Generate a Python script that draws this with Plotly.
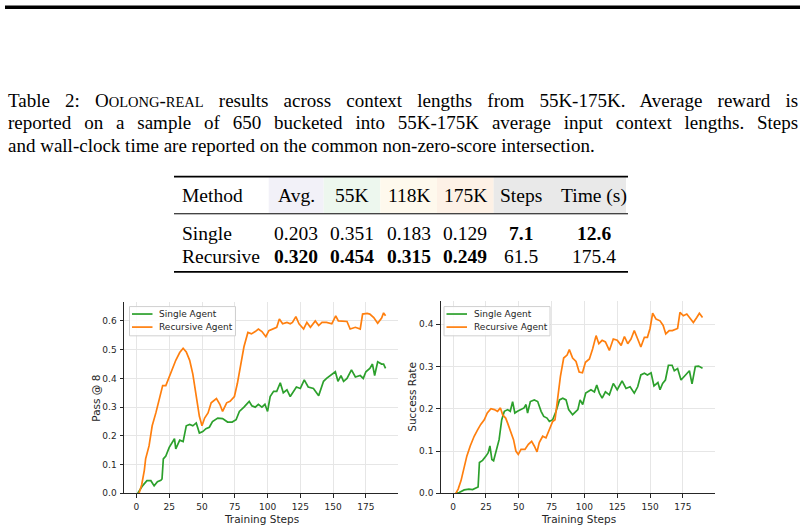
import plotly.graph_objects as go

# ---------------- data ----------------
left_single_steps = [1, 4.6, 8, 11, 13.5, 16, 18.6, 19.5, 20.5, 22.4, 25, 29, 30, 33, 35.6, 38, 40.6, 43, 45.6, 48,
                     50.6, 53, 55.6, 58, 62, 65.7, 69.5, 73, 76, 78.5, 82, 86, 88, 90.6, 93, 95.7, 98, 100, 102, 104.6,
                     107, 109.7, 112, 114.8, 117.3, 120, 122, 125, 128, 131, 135, 139, 142.7, 145, 148, 151.7, 153.7, 156, 158, 160.6,
                     164, 167, 170.7, 173, 175, 178, 180, 181.7, 184, 187, 188.5, 190]
left_single_vals = [0.0, 0.026, 0.044, 0.044, 0.026, 0.04, 0.045, 0.05, 0.12, 0.13, 0.16, 0.19, 0.155, 0.185, 0.18, 0.235, 0.24, 0.235, 0.245, 0.21,
                    0.215, 0.225, 0.23, 0.25, 0.262, 0.26, 0.248, 0.248, 0.256, 0.285, 0.30, 0.32, 0.305, 0.30, 0.31, 0.30, 0.31, 0.285, 0.337, 0.355,
                    0.355, 0.385, 0.35, 0.36, 0.337, 0.355, 0.37, 0.365, 0.395, 0.37, 0.365, 0.34, 0.39, 0.40, 0.41, 0.423, 0.39, 0.41, 0.39, 0.40,
                    0.43, 0.405, 0.41, 0.40, 0.423, 0.435, 0.45, 0.41, 0.458, 0.45, 0.45, 0.435]

left_rec_steps = [2, 4, 6, 7, 9.6, 12, 14.8, 17, 20, 22.4, 25, 27.5, 30, 33, 35.6, 38, 40.6, 43, 45.6, 48,
                  50, 52, 54.6, 57, 61, 63.6, 65.7, 68.8, 71.4, 74.7, 77, 79.8, 82, 85, 87.7, 90.6, 93, 95.7, 98.7, 101,
                  104.6, 107, 109, 111.5, 114.8, 117.3, 119, 121.6, 124, 127.5, 130, 132.7, 136.4, 139, 141.5, 145, 149, 152, 154, 157,
                  160.6, 163, 167, 170.7, 172.5, 176, 178, 181, 184, 187, 188.5, 190]
left_rec_vals = [0.0, 0.03, 0.08, 0.12, 0.165, 0.235, 0.28, 0.325, 0.375, 0.375, 0.405, 0.435, 0.463, 0.49, 0.505, 0.492, 0.463, 0.415, 0.337, 0.268,
                 0.235, 0.262, 0.28, 0.315, 0.33, 0.31, 0.285, 0.315, 0.32, 0.337, 0.383, 0.452, 0.51, 0.56, 0.555, 0.563, 0.572, 0.563, 0.545, 0.566,
                 0.572, 0.578, 0.607, 0.59, 0.595, 0.59, 0.595, 0.615, 0.59, 0.572, 0.595, 0.578, 0.60, 0.584, 0.595, 0.595, 0.59, 0.618, 0.60, 0.60,
                 0.598, 0.572, 0.578, 0.572, 0.624, 0.626, 0.624, 0.612, 0.592, 0.61, 0.628, 0.618]

right_single_steps = [2, 4.6, 8.4, 12, 14.8, 17.3, 19, 20, 22.4, 25, 26.7, 28, 29.5, 30.8, 33, 35, 37, 39, 41.5, 43.5,
                      45.3, 47, 49, 51.6, 54, 55.5, 56.7, 58.8, 61.8, 64.4, 67, 69, 71.5, 73.3, 75.8, 78.4, 81, 83.5, 86, 88,
                      91, 93.6, 95, 96.7, 98.7, 101, 105, 107.6, 109.4, 111.4, 113.5, 116, 119, 122, 125, 128.7, 131.7, 134.8, 138, 140.6,
                      143, 145.7, 148, 150.8, 153, 156, 157.6, 159.6, 161.7, 164, 166.8, 168.5, 171, 173.6, 177.4, 180, 182, 184.5, 187, 190]
right_single_vals = [0.0, 0.002, 0.008, 0.01, 0.009, 0.013, 0.015, 0.073, 0.078, 0.088, 0.096, 0.112, 0.08, 0.077, 0.104, 0.127, 0.174, 0.194, 0.198, 0.194,
                     0.217, 0.19, 0.194, 0.198, 0.202, 0.21, 0.19, 0.217, 0.221, 0.217, 0.194, 0.182, 0.178, 0.17, 0.174, 0.194, 0.221, 0.225, 0.221, 0.198,
                     0.186, 0.194, 0.198, 0.221, 0.21, 0.237, 0.245, 0.24, 0.256, 0.237, 0.225, 0.24, 0.233, 0.26, 0.245, 0.266, 0.248, 0.252, 0.237, 0.252,
                     0.28, 0.284, 0.28, 0.285, 0.254, 0.262, 0.245, 0.26, 0.268, 0.303, 0.303, 0.29, 0.295, 0.268, 0.28, 0.29, 0.259, 0.30, 0.301, 0.296]

right_rec_steps = [2, 3.8, 6, 8, 10.4, 13, 16, 18.6, 21, 23.7, 26, 28.8, 31.3, 33.8, 36, 37.7, 40, 41.5, 43.5, 46,
                   47.8, 49.6, 51.7, 54.7, 57.3, 59.8, 61.8, 63.9, 65.6, 68.2, 70.7, 73.3, 75.8, 77.6, 79.6, 81.7, 84.2, 86.8, 88.5, 91,
                   93.6, 96, 98.5, 100.8, 103.8, 106.3, 108.9, 111, 113.5, 116, 119, 122, 125, 128, 130.5, 133, 135.5, 138, 140.6, 143,
                   145.7, 148, 150, 152, 154.6, 157.6, 160, 162, 164.6, 167, 171, 172.8, 175.4, 178, 180.5, 183, 185.6, 187.6, 190]
right_rec_vals = [0.0, 0.01, 0.03, 0.057, 0.088, 0.112, 0.135, 0.15, 0.163, 0.174, 0.19, 0.2, 0.198, 0.194, 0.202, 0.186, 0.178, 0.166, 0.15, 0.127,
                  0.1, 0.092, 0.104, 0.104, 0.116, 0.123, 0.112, 0.098, 0.12, 0.135, 0.131, 0.15, 0.17, 0.174, 0.229, 0.276, 0.32, 0.327, 0.34, 0.32,
                  0.312, 0.287, 0.285, 0.31, 0.318, 0.342, 0.373, 0.354, 0.362, 0.358, 0.338, 0.365, 0.362, 0.35, 0.371, 0.354, 0.365, 0.385, 0.365, 0.346,
                  0.369, 0.369, 0.39, 0.426, 0.412, 0.408, 0.397, 0.377, 0.385, 0.385, 0.39, 0.428, 0.42, 0.424, 0.414, 0.404, 0.416, 0.426, 0.416]

series_names = ["Single Agent", "Recursive Agent"]
x_tick_vals = [0, 25, 50, 75, 100, 125, 150, 175]
left_y_ticks = [0.0, 0.1, 0.2, 0.3, 0.4, 0.5, 0.6]
right_y_ticks = [0.0, 0.1, 0.2, 0.3, 0.4]

table_header = ["Method", "Avg.", "55K", "118K", "175K", "Steps", "Time (s)"]
table_rows = [
    ["Single", "0.203", "0.351", "0.183", "0.129", "<b>7.1</b>", "<b>12.6</b>"],
    ["Recursive", "<b>0.320</b>", "<b>0.454</b>", "<b>0.315</b>", "<b>0.249</b>", "61.5", "175.4"],
]

caption_lines = [
    "<span style='word-spacing:10.4px'>Table 2: O</span><span style='font-size:14.5px'>OLONG</span>-<span style='font-size:14.5px'>REAL</span>"
    "<span style='word-spacing:10.4px'> results across context lengths from 55K-175K. Average reward is</span>",
    "<span style='word-spacing:8.1px'>reported on a sample of 650 bucketed into 55K-175K average input context lengths. Steps</span>",
    "and wall-clock time are reported on the common non-zero-score intersection.",
]

# ---------------- helpers ----------------
W, H = 805, 532
def X(px):
    return px / W
def Y(py):
    return 1 - py / H

GREEN = "#2ca02c"
ORANGE = "#ff7f0e"
SERIF = "Liberation Serif"
SANS = "DejaVu Sans"
DARK = "#262626"

fig = go.Figure()
fig.add_trace(go.Scatter(x=left_single_steps, y=left_single_vals, mode="lines", name=series_names[0],
                         line=dict(color=GREEN, width=1.7), xaxis="x", yaxis="y", showlegend=False))
fig.add_trace(go.Scatter(x=left_rec_steps, y=left_rec_vals, mode="lines", name=series_names[1],
                         line=dict(color=ORANGE, width=1.7), xaxis="x", yaxis="y", showlegend=False))
fig.add_trace(go.Scatter(x=right_single_steps, y=right_single_vals, mode="lines", name=series_names[0],
                         line=dict(color=GREEN, width=1.7), xaxis="x2", yaxis="y2", showlegend=False))
fig.add_trace(go.Scatter(x=right_rec_steps, y=right_rec_vals, mode="lines", name=series_names[1],
                         line=dict(color=ORANGE, width=1.7), xaxis="x2", yaxis="y2", showlegend=False))

axis_common = dict(showgrid=True, gridcolor="#e6e6e6", gridwidth=1, zeroline=False,
                   showline=True, linecolor=DARK, linewidth=1, ticks="outside", ticklen=3.5,
                   tickwidth=1, tickcolor=DARK, tickfont=dict(family=SANS, size=9, color=DARK))

fig.update_layout(
    width=W, height=H, margin=dict(l=0, r=0, t=0, b=0),
    paper_bgcolor="white", plot_bgcolor="white",
    xaxis=dict(domain=[X(124), X(398)], range=[-9.5, 199.5], tickvals=x_tick_vals, anchor="y",
               ticklabelstandoff=1, **axis_common),
    yaxis=dict(domain=[Y(498), Y(305)], range=[0, 0.6655], tickvals=left_y_ticks,
               tickformat=".1f", anchor="x", ticklabelstandoff=1, **axis_common),
    xaxis2=dict(domain=[X(440.7), X(715)], range=[-9.5, 199.5], tickvals=x_tick_vals, anchor="y2",
                ticklabelstandoff=1, **axis_common),
    yaxis2=dict(domain=[Y(498), Y(304)], range=[0, 0.4546], tickvals=right_y_ticks,
                tickformat=".1f", anchor="x2", ticklabelstandoff=1, **axis_common),
)

shapes = []
annotations = []

# top black bar
shapes.append(dict(type="rect", xref="paper", yref="paper", x0=X(5), x1=X(800), y0=Y(9), y1=Y(5.5),
                   fillcolor="black", line=dict(width=0), layer="above"))

# caption
for i, line in enumerate(caption_lines):
    annotations.append(dict(text=line, xref="paper", yref="paper", x=X(6), y=Y(101 + 23 * i),
                            xanchor="left", yanchor="middle", showarrow=False,
                            font=dict(family=SERIF, size=19, color="black")))

# table
col_x = [180, 296, 352, 409, 465, 521, 594]
hdr_bg = [(268.7, 323.7, "#f2f1f8"), (323.7, 380.3, "#edf7ee"), (380.3, 437, "#fef9ed"),
          (437, 493.7, "#fdf1e6"), (493.7, 626, "#e9e9e9")]
for x0, x1, c in hdr_bg:
    shapes.append(dict(type="rect", xref="paper", yref="paper", x0=X(x0), x1=X(x1), y0=Y(215), y1=Y(179),
                       fillcolor=c, line=dict(width=0), layer="below"))
for yy, lw in [(178.3, 1.6), (215.8, 1.0), (274.5, 1.6)]:
    shapes.append(dict(type="line", xref="paper", yref="paper", x0=X(174), x1=X(628), y0=Y(yy), y1=Y(yy),
                       line=dict(color="black", width=lw)))

row_y = [197.5, 235.5, 258.5]
for j, txt in enumerate(table_header):
    annotations.append(dict(text=txt, xref="paper", yref="paper", x=X(col_x[j]), y=Y(row_y[0]),
                            xanchor="left" if j == 0 else "center", yanchor="middle", showarrow=False,
                            font=dict(family=SERIF, size=19.5, color="black")))
for r, row in enumerate(table_rows):
    for j, txt in enumerate(row):
        annotations.append(dict(text=txt, xref="paper", yref="paper", x=X(col_x[j]), y=Y(row_y[r + 1]),
                                xanchor="left" if j == 0 else "center", yanchor="middle", showarrow=False,
                                font=dict(family=SERIF, size=19.5, color="black")))

# axis titles
ax_font = dict(family=SANS, size=10.5, color=DARK)
annotations.append(dict(text="Training Steps", xref="paper", yref="paper", x=X(261.5), y=Y(523.5),
                        xanchor="center", yanchor="middle", showarrow=False, font=ax_font))
annotations.append(dict(text="Training Steps", xref="paper", yref="paper", x=X(578), y=Y(523.5),
                        xanchor="center", yanchor="middle", showarrow=False, font=ax_font))
annotations.append(dict(text="Pass @ 8", xref="paper", yref="paper", x=X(96.5), y=Y(402),
                        xanchor="center", yanchor="middle", showarrow=False, textangle=-90, font=ax_font))
annotations.append(dict(text="Success Rate", xref="paper", yref="paper", x=X(412.5), y=Y(401),
                        xanchor="center", yanchor="middle", showarrow=False, textangle=-90, font=ax_font))

# legends (drawn as guides)
leg_font = dict(family=SANS, size=9, color=DARK)
for bx in [129.5, 444]:
    shapes.append(dict(type="rect", xref="paper", yref="paper", x0=X(bx), x1=X(bx + 106), y0=Y(339), y1=Y(309.5),
                       fillcolor="rgba(255,255,255,0.85)", line=dict(color="#d0d0d0", width=1), layer="above"))
    for k, (name, col) in enumerate(zip(series_names, [GREEN, ORANGE])):
        yy = 317 + 13.2 * k
        shapes.append(dict(type="line", xref="paper", yref="paper", x0=X(bx + 2.5), x1=X(bx + 23), y0=Y(yy), y1=Y(yy),
                           line=dict(color=col, width=1.7), layer="above"))
        annotations.append(dict(text=name, xref="paper", yref="paper", x=X(bx + 27.5), y=Y(yy),
                                xanchor="left", yanchor="middle", showarrow=False, font=leg_font))

fig.update_layout(shapes=shapes, annotations=annotations)
fig.write_html("out.html")
